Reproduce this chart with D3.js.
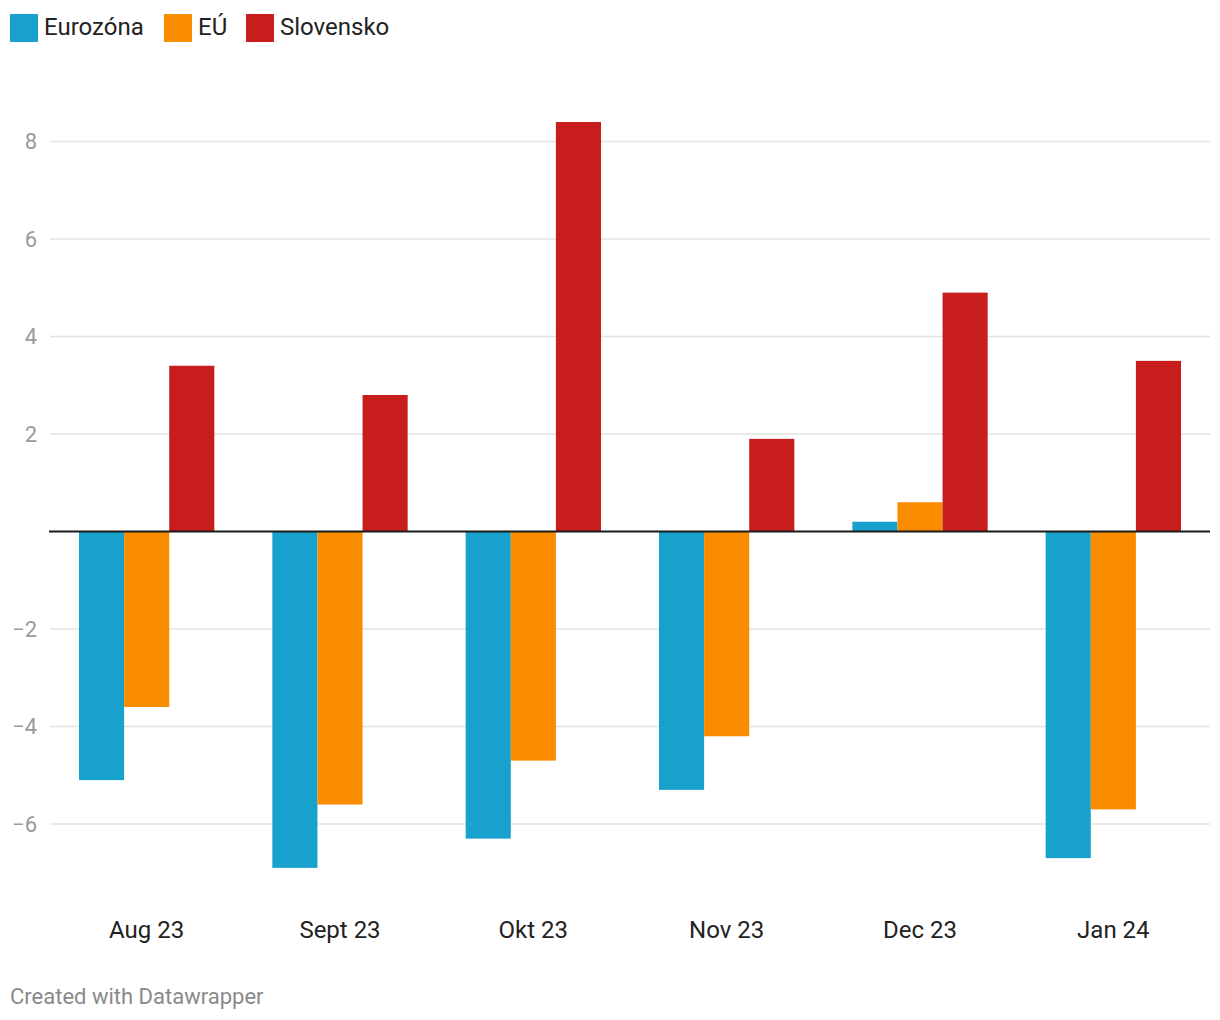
<!DOCTYPE html>
<html>
<head>
<meta charset="utf-8">
<script src="https://cdn.jsdelivr.net/npm/d3@7"></script>
<style>
  html, body { margin: 0; padding: 0; background: #fff; }
  svg { display: block; font-family: Roboto, "Noto Sans", sans-serif; }
</style>
</head>
<body>
<svg id="chart" width="1220" height="1020"></svg>
<script>
const categories = ["Aug 23", "Sept 23", "Okt 23", "Nov 23", "Dec 23", "Jan 24"];
const seriesNames = ["Eurozóna", "EÚ", "Slovensko"];
const eurozona = [-5.1, -6.9, -6.3, -5.3, 0.2, -6.7];
const eu = [-3.6, -5.6, -4.7, -4.2, 0.6, -5.7];
const slovensko = [3.4, 2.8, 8.4, 1.9, 4.9, 3.5];
const yTicks = [-6, -4, -2, 2, 4, 6, 8];
const colors = ["#18a1cd", "#fa8c00", "#c71e1d"];

const seriesValues = [eurozona, eu, slovensko];
const svg = d3.select("#chart");

const x = d3.scaleBand().domain(categories).range([50, 1210]).paddingInner(0.3).paddingOuter(0.15);
const xs = d3.scaleBand().domain(seriesNames).range([0, x.bandwidth()]);
const y = d3.scaleLinear().domain([0, 8]).range([531.5, 141.5]);

// gridlines
const grid = svg.append("g");
grid.selectAll("line").data(yTicks).join("line")
  .attr("x1", 50).attr("x2", 1210)
  .attr("y1", d => y(d)).attr("y2", d => y(d))
  .attr("stroke", "#e3e3e3").attr("stroke-width", 1.5);

// y tick labels
svg.append("g").selectAll("text").data(yTicks).join("text")
  .attr("x", 37).attr("y", d => y(d)).attr("dy", "0.35em")
  .attr("text-anchor", "end").attr("font-size", 22).attr("fill", "#9a9a9a")
  .text(d => d < 0 ? "\u2212" + Math.abs(d) : d);

// bars
const groups = svg.append("g").selectAll("g").data(categories).join("g")
  .attr("transform", d => `translate(${x(d)},0)`);
groups.selectAll("rect").data((c, i) => seriesNames.map((s, j) => ({ s, j, v: seriesValues[j][i] })))
  .join("rect")
  .attr("x", d => xs(d.s))
  .attr("width", xs.bandwidth())
  .attr("y", d => Math.min(y(d.v), y(0)))
  .attr("height", d => Math.abs(y(d.v) - y(0)))
  .attr("fill", d => colors[d.j]);

// zero line
svg.append("line").attr("x1", 49).attr("x2", 1210).attr("y1", y(0)).attr("y2", y(0))
  .attr("stroke", "#1a1a1a").attr("stroke-width", 2);

// x labels
svg.append("g").selectAll("text").data(categories).join("text")
  .attr("x", d => x(d) + x.bandwidth() / 2).attr("y", 938)
  .attr("text-anchor", "middle").attr("font-size", 24).attr("fill", "#222")
  .text(d => d);

// legend
const legendX = [10, 164, 246];
const lg = svg.append("g").selectAll("g").data(seriesNames).join("g")
  .attr("transform", (d, i) => `translate(${legendX[i]},14)`);
lg.append("rect").attr("width", 28).attr("height", 28).attr("fill", (d, i) => colors[i]);
lg.append("text").attr("x", 34).attr("y", 12.5).attr("dy", "0.35em")
  .attr("font-size", 24).attr("fill", "#222").text(d => d);

// footer
svg.append("text").attr("x", 10).attr("y", 1004).attr("font-size", 22).attr("fill", "#8a8a8a")
  .text("Created with Datawrapper");
</script>
</body>
</html>
